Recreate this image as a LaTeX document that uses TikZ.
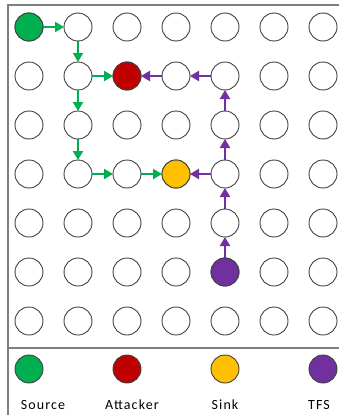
\documentclass[tikz,border=0pt]{standalone}
\usepackage{fontspec}
\setmainfont[LetterSpace=8]{Carlito}
\usetikzlibrary{arrows.meta}
\definecolor{cgreen}{HTML}{00B050}
\definecolor{cred}{HTML}{C00000}
\definecolor{cyellow}{HTML}{FFC000}
\definecolor{cpurple}{HTML}{7030A0}
\definecolor{cline}{HTML}{404040}
\definecolor{cframe}{HTML}{7F7F7F}
\begin{document}
\begin{tikzpicture}[x=1pt,y=-1pt,
  sensor/.style={circle,draw=cline,line width=0.9pt,minimum size=28pt,inner sep=0pt,outer sep=0pt,fill=white},
  flowg/.style={draw=cgreen,line width=2.6pt,-{Triangle[length=9pt,width=10pt]}},
  flowp/.style={draw=cpurple,line width=2.6pt,-{Triangle[length=9pt,width=10pt]}},
  legtext/.style={font=\fontsize{14}{16}\selectfont,anchor=base}]
\useasboundingbox (0,0) rectangle (339,415);
\draw[cframe,line width=1.4pt] (339,5) -- (8,5) -- (8,415);
\draw[cframe,line width=1.4pt] (8,348) -- (339,348);
\foreach \i in {0,...,6}{
  \foreach \j in {0,...,6}{
    \node[sensor] (n\i\j) at ({29+49*\i},{27+49*\j}) {};
  }
}
\node[sensor,fill=cgreen] at (n00) {};
\node[sensor,fill=cred] at (n21) {};
\node[sensor,fill=cyellow] at (n33) {};
\node[sensor,fill=cpurple] at (n45) {};
% green path
\draw[flowg] (n00) -- (n10);
\draw[flowg] (n10) -- (n11);
\draw[flowg] (n11) -- (n21);
\draw[flowg] (n11) -- (n12);
\draw[flowg] (n12) -- (n13);
\draw[flowg] (n13) -- (n23);
\draw[flowg] (n23) -- (n33);
% purple path
\draw[flowp] (n45) -- (n44);
\draw[flowp] (n44) -- (n43);
\draw[flowp] (n43) -- (n33);
\draw[flowp] (n43) -- (n42);
\draw[flowp] (n42) -- (n41);
\draw[flowp] (n41) -- (n31);
\draw[flowp] (n31) -- (n21);
% legend
\node[sensor,fill=cgreen] (lsrc) at (29,369) {};
\node[sensor,fill=cred] (latk) at (127,369) {};
\node[sensor,fill=cyellow] (lsnk) at (225,369) {};
\node[sensor,fill=cpurple] (ltfs) at (323,369) {};
\node[legtext] (tsrc) at (43,409) {Source};
\node[legtext] (tatk) at (132,409) {Attacker};
\node[legtext] (tsnk) at (225,409) {Sink};
\node[legtext] (ttfs) at (319,409) {TFS};
\end{tikzpicture}
\end{document}
